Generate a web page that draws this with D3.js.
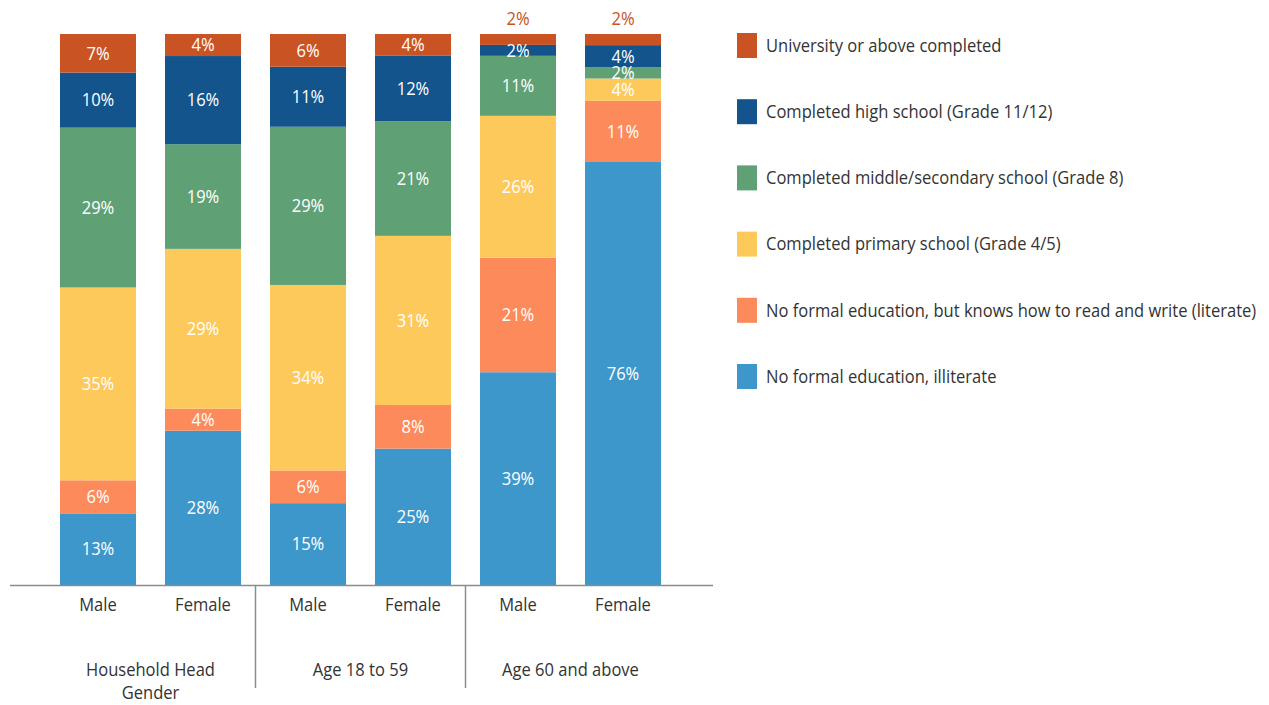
<!DOCTYPE html>
<html>
<head>
<meta charset="utf-8">
<script src="https://cdn.jsdelivr.net/npm/d3@7"></script>
<style>
  html, body { margin: 0; padding: 0; background: #fff; }
  svg text { font-family: "Open Sans", "DejaVu Sans", sans-serif; }
</style>
</head>
<body>
<svg id="chart" width="1269" height="705"></svg>
<script>
// Education level of household members, by group
const groups = ["Household Head\nGender", "Age 18 to 59", "Age 60 and above"];
const bars = [
  { group: 0, label: "Male" }, { group: 0, label: "Female" },
  { group: 1, label: "Male" }, { group: 1, label: "Female" },
  { group: 2, label: "Male" }, { group: 2, label: "Female" }
];
// stacking order, bottom to top
const levels = [
  "No formal education, illiterate",
  "No formal education, but knows how to read and write (literate)",
  "Completed primary school (Grade 4/5)",
  "Completed middle/secondary school (Grade 8)",
  "Completed high school (Grade 11/12)",
  "University or above completed"
];
const illiterate   = [13, 28, 15, 25, 39, 76];
const literate     = [6, 4, 6, 8, 21, 11];
const primary      = [35, 29, 34, 31, 26, 4];
const middle       = [29, 19, 29, 21, 11, 2];
const highSchool   = [10, 16, 11, 12, 2, 4];
const university   = [7, 4, 6, 4, 2, 2];
const colors = ["#3d97cb", "#fd8a5b", "#fec95b", "#5fa175", "#12548b", "#ca5323"];

const series = [illiterate, literate, primary, middle, highSchool, university];
const rows = bars.map((b, i) => {
  const r = { key: i };
  levels.forEach((l, j) => r[l] = series[j][i]);
  return r;
});

const svg = d3.select("#chart");
const plot = { left: 10, right: 713, top: 34, bottom: 585 };
const SX = 0.92; // horizontal squeeze applied to all text

function squeeze(sel, cx) {
  sel.attr("transform", `translate(${cx},0) scale(${SX},1) translate(${-cx},0)`);
}

const x = d3.scaleBand()
  .domain(d3.range(bars.length))
  .range([45.5, 675.5])
  .paddingInner(0.276)
  .paddingOuter(0.138);

const y = d3.scaleLinear().domain([0, 1]).range([plot.bottom, plot.top]);

const stack = d3.stack().keys(levels).offset(d3.stackOffsetExpand);
const stacked = stack(rows);

const layer = svg.append("g").selectAll("g")
  .data(stacked)
  .join("g")
  .attr("fill", (d, i) => colors[i]);

layer.selectAll("rect")
  .data(d => d)
  .join("rect")
  .attr("x", d => x(d.data.key))
  .attr("width", x.bandwidth())
  .attr("y", d => y(d[1]))
  .attr("height", d => y(d[0]) - y(d[1]));

// value labels: centred in each segment; the thin top segments of the older group sit above the bar
const labels = svg.append("g").attr("text-anchor", "middle")
  .style("font-size", "18px");
stacked.forEach((s, si) => {
  s.forEach((d, bi) => {
    const v = series[si][bi];
    const cx = x(bi) + x.bandwidth() / 2;
    const above = si === levels.length - 1 && bars[bi].group === 2;
    const cy = above ? plot.top - 15 : (y(d[0]) + y(d[1])) / 2;
    labels.append("text")
      .attr("x", cx)
      .attr("y", cy)
      .attr("dy", "0.35em")
      .attr("fill", above ? "#ca5323" : "#fff")
      .call(squeeze, cx)
      .text(v + "%");
  });
});

// baseline
svg.append("line")
  .attr("x1", plot.left).attr("x2", plot.right)
  .attr("y1", plot.bottom + 0.5).attr("y2", plot.bottom + 0.5)
  .attr("stroke", "#8c8c8c").attr("stroke-width", 1.5);

// bar category labels
const axis = d3.axisBottom(x).tickSize(0).tickPadding(13).tickFormat(i => bars[i].label);
const ax = svg.append("g").attr("transform", `translate(0,${plot.bottom})`).call(axis);
ax.select(".domain").remove();
ax.selectAll("text")
  .style("font-size", "18px")
  .attr("fill", "#333")
  .attr("transform", `scale(${SX},1)`);

// group separators and group labels
groups.forEach((g, gi) => {
  const members = bars.map((b, i) => i).filter(i => bars[i].group === gi);
  const x0 = x(members[0]);
  const x1 = x(members[members.length - 1]) + x.bandwidth();
  const step = x.step();
  if (gi > 0) {
    const sx = x0 - (step - x.bandwidth()) / 2;
    svg.append("line")
      .attr("x1", sx).attr("x2", sx)
      .attr("y1", plot.bottom).attr("y2", 688)
      .attr("stroke", "#8c8c8c").attr("stroke-width", 1.5);
  }
  const cx = (x0 + x1) / 2;
  const t = svg.append("text")
    .attr("text-anchor", "middle")
    .attr("x", cx)
    .attr("y", 676)
    .attr("fill", "#333")
    .style("font-size", "18px")
    .call(squeeze, cx);
  g.split("\n").forEach((line, li) => {
    t.append("tspan").attr("x", cx).attr("dy", li === 0 ? 0 : 23).text(line);
  });
});

// legend, top entry first
const legend = svg.append("g").attr("transform", "translate(737,33)");
const order = d3.range(levels.length).reverse();
order.forEach((li, k) => {
  const gy = k * 66.2;
  legend.append("rect")
    .attr("x", 0).attr("y", gy)
    .attr("width", 20).attr("height", 25)
    .attr("fill", colors[li]);
  legend.append("text")
    .attr("x", 29).attr("y", gy + 12.5)
    .attr("dy", "0.35em")
    .attr("fill", "#333")
    .style("font-size", "18px")
    .call(squeeze, 29)
    .text(levels[li]);
});
</script>
</body>
</html>
